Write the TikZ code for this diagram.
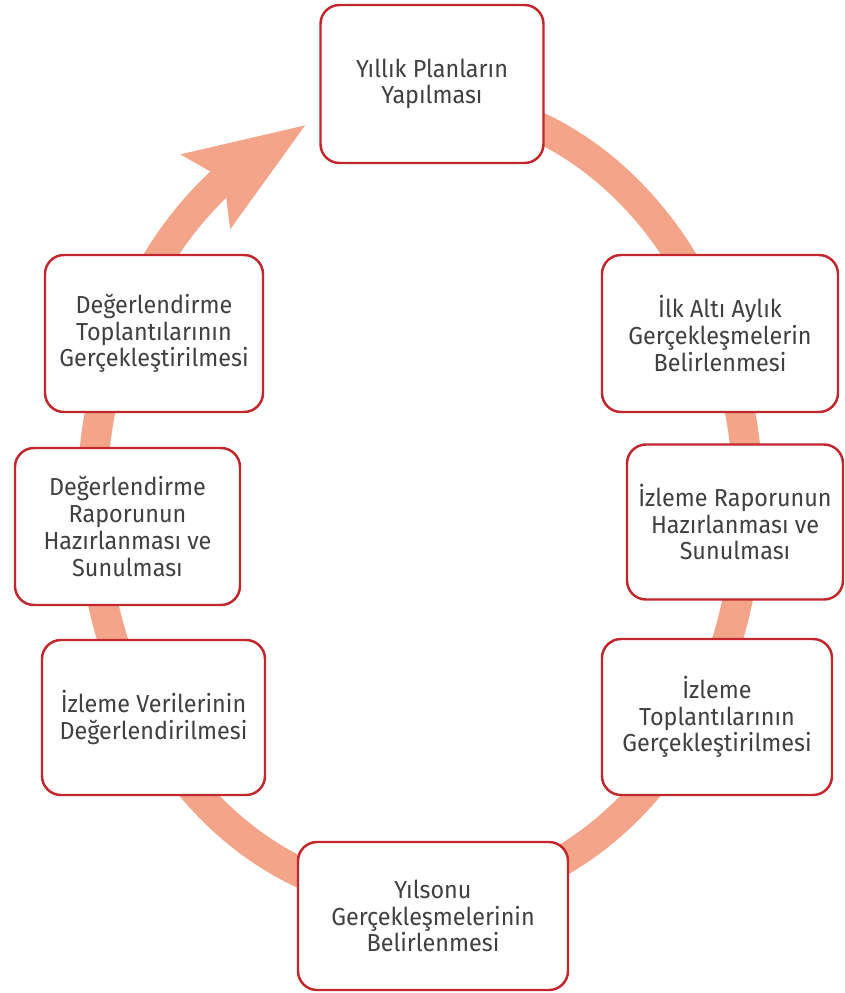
\documentclass[tikz,border=0pt]{standalone}
\usepackage{fontspec}
\setmainfont[FakeStretch=0.95]{Fira Sans}
\usetikzlibrary{calc,arrows.meta,bending}
\definecolor{boxred}{HTML}{C1272D}
\definecolor{ringsalmon}{HTML}{F4A488}
\definecolor{txtgray}{HTML}{404040}
\tikzset{
  stage/.style={draw=boxred, line width=1.4pt, rounded corners=0.38cm, fill=white,
    align=center, text=txtgray, font=\fontsize{14}{15.2}\selectfont},
}

\begin{document}
\begin{tikzpicture}
			%%%%% START %%%%%
			
			\useasboundingbox (0, 0) rectangle (16.88, -19.86);
			
			% the ring, clockwise, ending in the arrow
			\draw[line width=0.6cm, color=ringsalmon, -{Stealth[length=2.4cm, width=1.8cm, inset=0.45cm, line width=0pt]}]
				($(8.40, -10.00)+(80:6.56 and 8.00)$) arc[start angle=80, end angle=-249.5, x radius=6.56, y radius=8.00];
			
			% stages
			\node[stage, minimum width=4.46cm, minimum height=3.16cm] (plan) at (8.64, -1.68) {Yıllık Planların\\Yapılması};
			\node[stage, minimum width=4.72cm, minimum height=3.14cm] (altiay) at (14.40, -6.67) {İlk Altı Aylık\\Gerçekleşmelerin\\Belirlenmesi};
			\node[stage, minimum width=4.32cm, minimum height=3.10cm] (izrapor) at (14.70, -10.44) {İzleme Raporunun\\Hazırlanması ve\\Sunulması};
			\node[stage, minimum width=4.60cm, minimum height=3.12cm] (iztopl) at (14.34, -14.34) {İzleme\\Toplantılarının\\Gerçekleştirilmesi};
			\node[stage, minimum width=5.40cm, minimum height=2.96cm] (yilsonu) at (8.66, -18.32) {Yılsonu\\Gerçekleşmelerinin\\Belirlenmesi};
			\node[stage, minimum width=4.46cm, minimum height=3.10cm] (izveri) at (3.07, -14.35) {İzleme Verilerinin\\Değerlendirilmesi};
			\node[stage, minimum width=4.50cm, minimum height=3.14cm] (degrapor) at (2.55, -10.53) {Değerlendirme\\Raporunun\\Hazırlanması ve\\Sunulması};
			\node[stage, minimum width=4.36cm, minimum height=3.14cm] (degtopl) at (3.08, -6.67) {Değerlendirme\\Toplantılarının\\Gerçekleştirilmesi};
			
			%%%%% END %%%%%
\end{tikzpicture}
\end{document}
